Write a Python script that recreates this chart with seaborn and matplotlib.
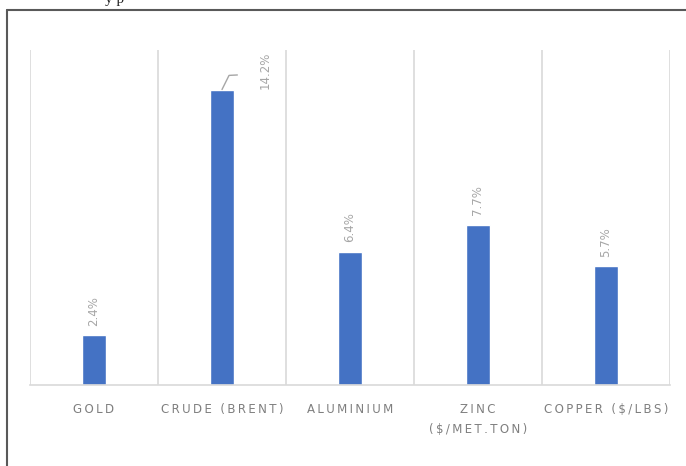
import matplotlib
matplotlib.use("Agg")
import matplotlib.pyplot as plt
import seaborn as sns
import pandas as pd
from matplotlib.lines import Line2D

categories = ["GOLD", "CRUDE (BRENT)", "ALUMINIUM", "ZINC\n($/MET.TON)", "COPPER ($/LBS)"]
values = [2.4, 14.2, 6.4, 7.7, 5.7]
labels = ["2.4%", "14.2%", "6.4%", "7.7%", "5.7%"]

sns.set_theme(style="white")
plt.rcParams['font.family'] = ['DejaVu Sans']

def spaced(s):
    thin = "\u2009"
    return "\n".join(thin.join(list(line)) for line in s.split("\n"))

df = pd.DataFrame({"cat": categories, "val": values})

fig = plt.figure(figsize=(6.86, 4.66), dpi=100)
ax = fig.add_axes([30/686, 1-385/466, 640/686, 335/466])
sns.barplot(data=df, x="cat", y="val", color="#4472C4", width=0.19, ax=ax, saturation=1)

ax.set_ylim(0, 16.1)
ax.set_xlim(-0.5, 4.5)
for x in [-0.5, 0.5, 1.5, 2.5, 3.5, 4.5]:
    ax.axvline(x, color="#D9D9D9", lw=1.2, zorder=0)
for s in ["top", "right", "left"]:
    ax.spines[s].set_visible(False)
ax.spines["bottom"].set_color("#D9D9D9")
ax.spines["bottom"].set_linewidth(1.2)
ax.set_yticks([])
ax.set_xlabel("")
ax.set_ylabel("")
ax.set_xticks(range(len(categories)))
ax.set_xticklabels([spaced(c) for c in categories], color="#7F7F7F", fontsize=8.5, linespacing=1.65)
ax.tick_params(axis="x", length=0, pad=13)

for i, (v, lab) in enumerate(zip(values, labels)):
    if i == 1:
        ax.text(i + 0.34, v + 0.9, lab, rotation=90, ha="center", va="center",
                color="#A6A6A6", fontsize=8.5)
        ax.plot([i, i + 0.055, i + 0.12], [v, v + 0.68, v + 0.7], color="#A6A6A6", lw=1)
    else:
        ax.text(i, v + 0.45, lab, rotation=90, ha="center", va="bottom",
                color="#A6A6A6", fontsize=8.5)

# outer frame (partial border)
fig.add_artist(Line2D([7/686, 7/686], [0, 1-10/466], transform=fig.transFigure, color="#595959", lw=1.5))
fig.add_artist(Line2D([7/686, 1], [1-10/466, 1-10/466], transform=fig.transFigure, color="#595959", lw=1.5))
fig.text(105/686, 1.0, "y p", ha="left", va="center", fontsize=11, color="#222222",
         family="Liberation Serif")

fig.savefig("out.png", dpi=100, facecolor="white")
